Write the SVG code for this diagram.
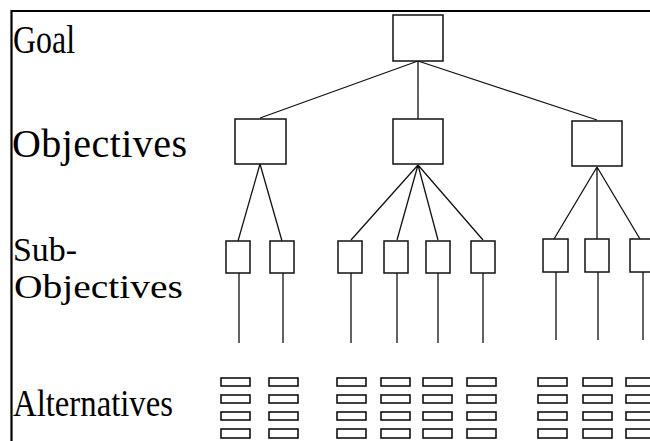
<svg xmlns="http://www.w3.org/2000/svg" width="650" height="441" viewBox="0 0 650 441">
<style>
.lbl{font-family:"Liberation Serif","Times New Roman",serif;font-size:38px;fill:#000}
.box{fill:#fff;stroke:#111;stroke-width:1.5}
.alt{fill:#fff;stroke:#111;stroke-width:1.6}
.ln{stroke:#111;stroke-width:1.3;fill:none}
.frame{stroke:#000;stroke-width:2.2;fill:none}
</style>
<rect width="650" height="441" fill="#fff"/>
<path class="frame" d="M11.5 441 V11 H650"/>
<g id="labels">
<text class="lbl" x="13" y="53" style="font-size:39px" textLength="62" lengthAdjust="spacingAndGlyphs">Goal</text>
<text class="lbl" x="12" y="157" style="font-size:40px" textLength="175" lengthAdjust="spacing">Objectives</text>
<text class="lbl" x="13" y="261" style="font-size:33px" textLength="64" lengthAdjust="spacingAndGlyphs">Sub-</text>
<text class="lbl" x="14" y="298" style="font-size:33px" textLength="169" lengthAdjust="spacingAndGlyphs">Objectives</text>
<text class="lbl" x="13" y="416" textLength="160" lengthAdjust="spacingAndGlyphs">Alternatives</text>
</g>
<g id="connectors">
<path class="ln" d="M418 61 L260 118 M418 61 V119 M418 61 L597 120"/>
<path class="ln" d="M260 164 L238 241 M260 164 L282 241"/>
<path class="ln" d="M418 165 L351 240 M418 165 L397 240 M418 165 L438 240 M418 165 L483 240"/>
<path class="ln" d="M597 167 L554 239 M597 167 V239 M597 167 L640 239"/>
<path class="ln" d="M239 273 V343 M283 273 V343 M351 273 V343 M397 273 V343 M438 273 V343 M483 273 V343 M556 272 V340 M598 272 V340 M643 272 V340"/>
</g>
<g id="goal"><rect class="box" x="393" y="15" width="50" height="46"/></g>
<g id="obj1"><rect class="box" x="235" y="119" width="51" height="45"/></g>
<g id="obj2"><rect class="box" x="393" y="119" width="50" height="45"/></g>
<g id="obj3"><rect class="box" x="572" y="121" width="50" height="45"/></g>
<g id="sub1"><rect class="box" x="226" y="241" width="24" height="32"/></g>
<g id="sub2"><rect class="box" x="270" y="241" width="24" height="32"/></g>
<g id="sub3"><rect class="box" x="338" y="241" width="24" height="32"/></g>
<g id="sub4"><rect class="box" x="384" y="241" width="24" height="32"/></g>
<g id="sub5"><rect class="box" x="426" y="241" width="24" height="32"/></g>
<g id="sub6"><rect class="box" x="471" y="241" width="24" height="32"/></g>
<g id="sub7"><rect class="box" x="543" y="239" width="25" height="33"/></g>
<g id="sub8"><rect class="box" x="585" y="239" width="24" height="33"/></g>
<g id="sub9"><rect class="box" x="630" y="239" width="24" height="33"/></g>
<defs>
<g id="altcol">
<rect class="alt" x="0" y="0" width="29" height="8"/>
<rect class="alt" x="0" y="17" width="29" height="8"/>
<rect class="alt" x="0" y="34" width="29" height="8"/>
<rect class="alt" x="0" y="51" width="29" height="9"/>
</g>
</defs>
<g id="alt1"><use href="#altcol" x="221" y="378"/></g>
<g id="alt2"><use href="#altcol" x="269" y="378"/></g>
<g id="alt3"><use href="#altcol" x="337" y="378"/></g>
<g id="alt4"><use href="#altcol" x="381" y="378"/></g>
<g id="alt5"><use href="#altcol" x="423" y="378"/></g>
<g id="alt6"><use href="#altcol" x="467" y="378"/></g>
<g id="alt7"><use href="#altcol" x="538" y="378"/></g>
<g id="alt8"><use href="#altcol" x="583" y="378"/></g>
<g id="alt9"><use href="#altcol" x="626" y="378"/></g>
</svg>
